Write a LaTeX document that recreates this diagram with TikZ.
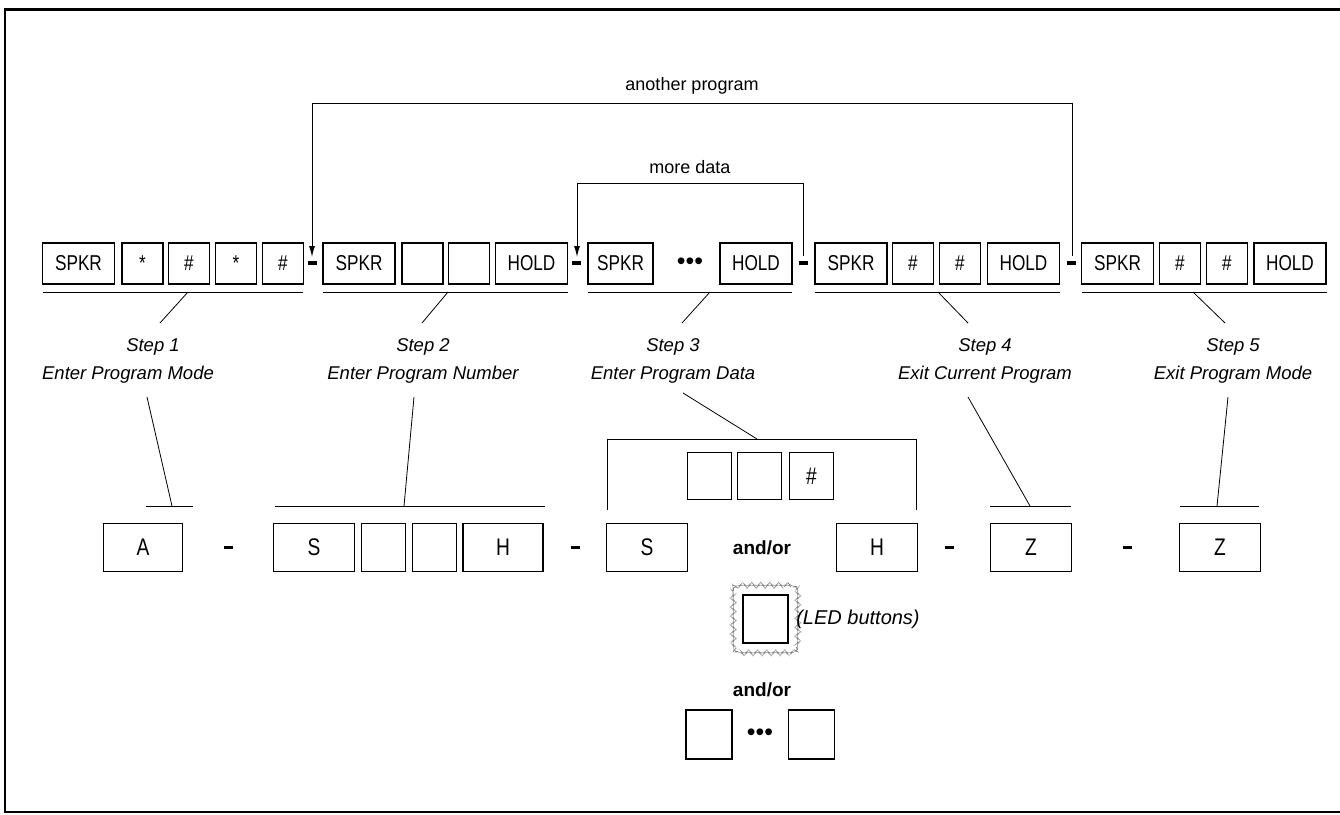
\documentclass[tikz,border=0pt]{standalone}
\usepackage{fontspec}
\setmainfont{Liberation Sans}
\newfontfamily\condfont[FakeStretch=0.8]{Liberation Sans}
\usetikzlibrary{decorations.pathmorphing,arrows.meta}
\begin{document}
\begin{tikzpicture}[x=1pt,y=-1pt,
  key/.style={draw,line width=1.5pt,minimum height=41pt,inner sep=0pt,font=\condfont\fontsize{21.5}{22}\selectfont},
  wkey/.style={key,minimum width=72pt},
  skey/.style={key,minimum width=41pt},
  lkey/.style={draw,line width=1.5pt,minimum height=48pt,inner sep=0pt,font=\condfont\fontsize{24}{24}\selectfont},
  sepdash/.style={line width=3.5pt},
  thin/.style={line width=0.8pt},
  steptext/.style={font=\itshape\fontsize{18.5}{28}\selectfont,align=center},
  lbl/.style={font=\fontsize{18}{20}\selectfont},
  boldlbl/.style={font=\bfseries\fontsize{19}{22}\selectfont},
  flow/.style={line width=1pt},
  arr/.style={flow,-{Latex[length=11pt,width=6pt]}}
]
\useasboundingbox (0,0) rectangle (1340,814);
% frame
\draw[line width=3pt] (4,9) -- (1340,9);
\draw[line width=2pt] (5,8) -- (5,813);
\draw[line width=2.5pt] (4,812) -- (1340,812);

% top row
\node[wkey] (a1) at (78.5,263.5) {SPKR};
\node[skey] (a2) at (142.5,263.5) {*};
\node[skey] (a3) at (189,263.5) {\#};
\node[skey] (a4) at (236,263.5) {*};
\node[skey] (a5) at (283,263.5) {\#};
\node[wkey] (b1) at (359,263.5) {SPKR};
\node[skey] (b2) at (422.5,263.5) {};
\node[skey] (b3) at (469,263.5) {};
\node[wkey] (b4) at (531.5,263.5) {HOLD};
\node[key,minimum width=65pt] (c1) at (620.5,263.5) {SPKR};
\node (c2) at (690,263.5) {\Huge\textbullet\textbullet\textbullet};
\node[wkey] (c3) at (756,263.5) {HOLD};
\node[wkey] (d1) at (851,263.5) {SPKR};
\node[skey] (d2) at (913,263.5) {\#};
\node[skey] (d3) at (960,263.5) {\#};
\node[wkey] (d4) at (1023.5,263.5) {HOLD};
\node[wkey] (e1) at (1117.5,263.5) {SPKR};
\node[skey] (e2) at (1180,263.5) {\#};
\node[skey] (e3) at (1227,263.5) {\#};
\node[wkey] (e4) at (1290,263.5) {HOLD};

% separators
\foreach \x in {312.5,576.5,803.5,1071}{\draw[sepdash] (\x-4.5,263) -- (\x+4.5,263);}

% loops
\coordinate (t1) at (312,257);
\coordinate (t2) at (577,257);
\coordinate (f2) at (803,256);
\coordinate (f1) at (1072,256);
\draw[arr] (f1) -- (1072,103) -- node[lbl,above=5pt] {another program} (312,103) -- (t1);
\draw[arr] (f2) -- (803,183) -- node[lbl,above=5pt] {more data} (577,183) -- (t2);

% underlines
\draw[thin] (43,292) -- (303,292);
\draw[thin] (323,292) -- (568,292);
\draw[thin] (588,292) -- (792,292);
\draw[thin] (815,292) -- (1060,292);
\draw[thin] (1082,292) -- (1327,292);

% step labels
\node[steptext] (s1) at (128,361) {\hspace*{50pt}Step 1\\Enter Program Mode};
\node[steptext] (s2) at (423,361) {Step 2\\Enter Program Number};
\node[steptext] (s3) at (673,361) {Step 3\\Enter Program Data};
\node[steptext] (s4) at (985,361) {Step 4\\Exit Current Program};
\node[steptext] (s5) at (1233,361) {Step 5\\Exit Program Mode};

\draw[thin] (188,292) -- (160,323);
\draw[thin] (448,292) -- (422,323);
\draw[thin] (710,292) -- (682,323);
\draw[thin] (938,292) -- (968,323);
\draw[thin] (1193,292) -- (1225,323);

% lower row
\def\ly{547.5}
\node[lkey,minimum width=79pt] (A) at (143,\ly) {A};
\node[lkey,minimum width=81pt] (S1) at (314,\ly) {S};
\node[lkey,minimum width=44pt] (S2) at (383.5,\ly) {};
\node[lkey,minimum width=44pt] (S3) at (434.5,\ly) {};
\node[lkey,minimum width=80pt] (H1) at (503,\ly) {H};
\node[lkey,minimum width=81pt] (S) at (647,\ly) {S};
\node[boldlbl] (ao1) at (762,\ly) {and/or};
\node[lkey,minimum width=81pt] (H) at (877,\ly) {H};
\node[lkey,minimum width=81pt] (Z1) at (1031,\ly) {Z};
\node[lkey,minimum width=81pt] (Z2) at (1220,\ly) {Z};
\foreach \x in {228,575,949,1127}{\draw[sepdash] (\x-4.5,\ly) -- (\x+4.5,\ly);}

% overlines
\def\oy{506}
\draw[thin] (146,\oy) -- (193,\oy);
\draw[thin] (275,\oy) -- (545,\oy);
\draw[thin] (990,\oy) -- (1071,\oy);
\draw[thin] (1180,\oy) -- (1259,\oy);
\draw[thin] (147,397) -- (172,\oy);
\draw[thin] (414,397) -- (404,\oy);
\draw[thin] (968,397) -- (1030,\oy);
\draw[thin] (1228,397) -- (1217,\oy);

% step 3 bracket
\draw[thin] (607,510) -- (607,439) -- (916,439) -- (916,510);
\draw[thin] (683,393) -- (757,439);
\node[lkey,minimum width=44pt,minimum height=47pt] (m1) at (709.5,476) {};
\node[lkey,minimum width=44pt,minimum height=47pt] (m2) at (759.5,476) {};
\node[lkey,minimum width=44pt,minimum height=47pt] (m3) at (811.5,476) {\#};

% LED button
\node[lkey,minimum width=45pt,minimum height=48pt] (led) at (765.5,619) {};
\draw[gray,line width=0.5pt,rounded corners=6pt,decorate,decoration={zigzag,segment length=9pt,amplitude=3pt}]
  ([shift={(-9,-9)}]led.north west) rectangle ([shift={(9,9)}]led.south east);
\node[steptext,anchor=west,font=\itshape\fontsize{20}{24}\selectfont] (ledt) at ([xshift=4pt]led.east) {(LED buttons)};

\node[boldlbl] (ao2) at (762,690) {and/or};
\node[lkey,minimum width=46pt,minimum height=49pt] (n1) at (709,734.5) {};
\node (n2) at (760,734.5) {\Huge\textbullet\textbullet\textbullet};
\node[lkey,minimum width=46pt,minimum height=49pt] (n3) at (811.5,734.5) {};
\end{tikzpicture}
\end{document}
